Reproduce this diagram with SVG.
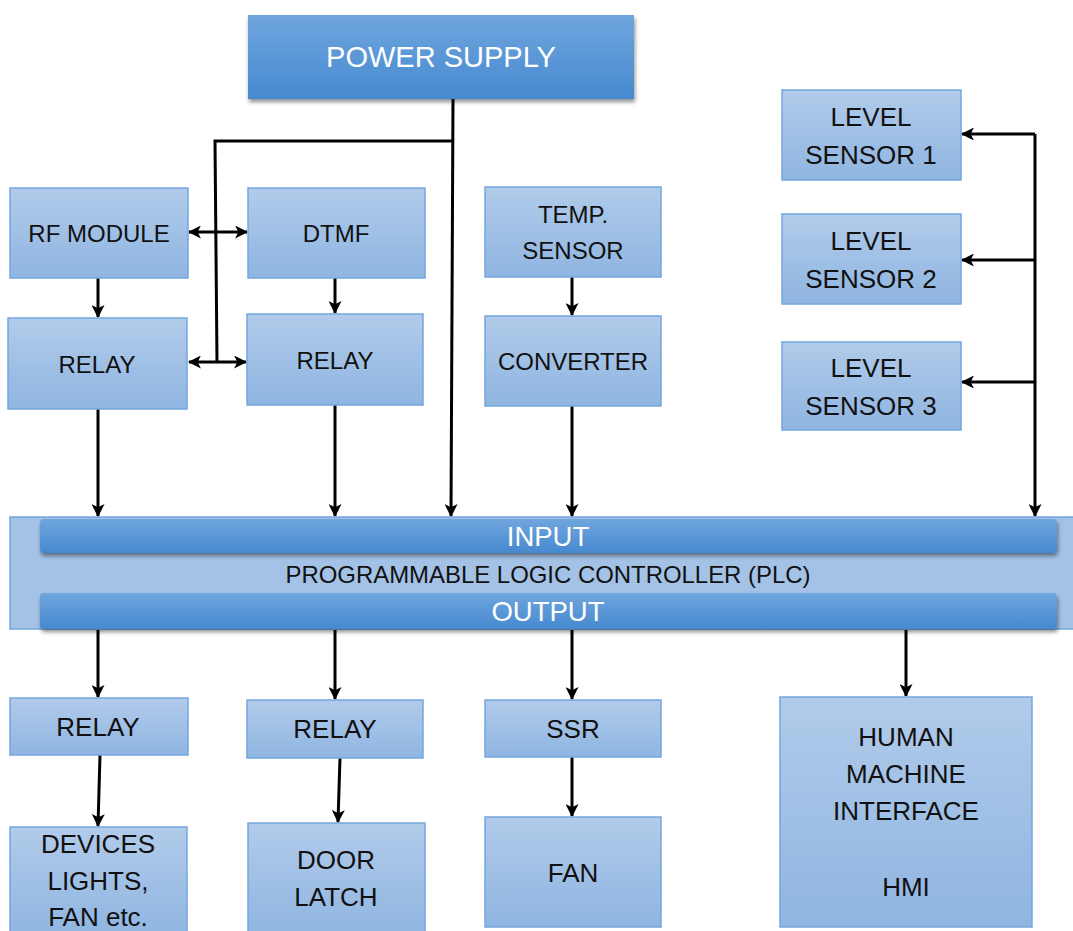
<svg xmlns="http://www.w3.org/2000/svg" width="1073" height="931" viewBox="0 0 1073 931">
  <defs>
    <linearGradient id="boxFill" x1="0" y1="0" x2="0" y2="1">
      <stop offset="0" stop-color="#b1cbea"/>
      <stop offset="1" stop-color="#8fb5e1"/>
    </linearGradient>
    <linearGradient id="darkFill" x1="0" y1="0" x2="0" y2="1">
      <stop offset="0" stop-color="#70a6de"/>
      <stop offset="1" stop-color="#4689cf"/>
    </linearGradient>
    <filter id="shadow" x="-10%" y="-20%" width="120%" height="150%">
      <feGaussianBlur in="SourceAlpha" stdDeviation="2"/>
      <feOffset dx="1" dy="3" result="b"/>
      <feComponentTransfer><feFuncA type="linear" slope="0.45"/></feComponentTransfer>
      <feMerge><feMergeNode/><feMergeNode in="SourceGraphic"/></feMerge>
    </filter>
    <marker id="arrow" viewBox="0 0 12 12" refX="11" refY="6" markerWidth="13" markerHeight="13" markerUnits="userSpaceOnUse" orient="auto-start-reverse">
      <path d="M0,0 L12,6 L0,12 L3,6 Z" fill="#000"/>
    </marker>
  </defs>
  <style>
    .box { fill: url(#boxFill); stroke: #74a7de; stroke-width: 1.5; }
    .dark { fill: url(#darkFill); filter: url(#shadow); }
    .lbl { font-family: "Liberation Sans", Arial, sans-serif; font-size: 24px; fill: #111; text-anchor: middle; dominant-baseline: central; }
    .big { font-size: 26px; }
    .title { font-size: 29px; }
    .bar { font-size: 27.5px; }
    .plc { font-size: 24px; }
    .white { fill: #fff; }
    .wire { fill: none; stroke: #000; stroke-width: 3; }
    .arr { marker-end: url(#arrow); }
    .dbl { marker-start: url(#arrow); marker-end: url(#arrow); }
  </style>

  <rect width="1073" height="931" fill="#fff"/>

  <!-- connectors -->
  <g id="connectors" class="wire">
    <!-- power distribution -->
    <path d="M453,99 L451,516" class="arr"/>
    <path d="M453,141 H215 L217,362"/>
    <path d="M189,232 H247" class="dbl"/>
    <path d="M189,362 H246" class="dbl"/>
    <!-- input side -->
    <path d="M98,278 V317" class="arr"/>
    <path d="M335,278 V313" class="arr"/>
    <path d="M98,409 V516" class="arr"/>
    <path d="M335,405 V516" class="arr"/>
    <path d="M572,277 V315" class="arr"/>
    <path d="M572,406 V516" class="arr"/>
    <!-- level sensor bus -->
    <path d="M1035,134 V516" class="arr"/>
    <path d="M1035,134 H962" class="arr"/>
    <path d="M1035,260 H962" class="arr"/>
    <path d="M1035,382 H962" class="arr"/>
    <!-- output side -->
    <path d="M98,630 V697" class="arr"/>
    <path d="M335,630 V699" class="arr"/>
    <path d="M572,630 V699" class="arr"/>
    <path d="M906,630 V696" class="arr"/>
    <path d="M100,755 L98,826" class="arr"/>
    <path d="M340,758 L338,822" class="arr"/>
    <path d="M572,757 V816" class="arr"/>
  </g>

  <g id="power-supply">
    <rect class="dark" x="248" y="15" width="386" height="84"/>
    <text class="lbl white title" x="441" y="57">POWER SUPPLY</text>
  </g>

  <g id="rf-module">
    <rect class="box" x="10" y="188" width="178" height="90"/>
    <text class="lbl" x="99" y="233">RF MODULE</text>
  </g>
  <g id="dtmf">
    <rect class="box" x="248" y="188" width="177" height="90"/>
    <text class="lbl" x="336" y="233">DTMF</text>
  </g>
  <g id="relay-rf">
    <rect class="box" x="8" y="318" width="179" height="91"/>
    <text class="lbl" x="97" y="364">RELAY</text>
  </g>
  <g id="relay-dtmf">
    <rect class="box" x="247" y="314" width="176" height="91"/>
    <text class="lbl" x="335" y="360">RELAY</text>
  </g>
  <g id="temp-sensor">
    <rect class="box" x="485" y="187" width="176" height="90"/>
    <text class="lbl" x="573" y="214">TEMP.</text>
    <text class="lbl" x="573" y="250">SENSOR</text>
  </g>
  <g id="converter">
    <rect class="box" x="485" y="316" width="176" height="90"/>
    <text class="lbl" x="573" y="361">CONVERTER</text>
  </g>

  <g id="level-sensor-1">
    <rect class="box" x="782" y="90" width="179" height="90"/>
    <text class="lbl big" x="871" y="117">LEVEL</text>
    <text class="lbl big" x="871" y="155">SENSOR 1</text>
  </g>
  <g id="level-sensor-2">
    <rect class="box" x="782" y="214" width="179" height="90"/>
    <text class="lbl big" x="871" y="241">LEVEL</text>
    <text class="lbl big" x="871" y="279">SENSOR 2</text>
  </g>
  <g id="level-sensor-3">
    <rect class="box" x="782" y="342" width="179" height="88"/>
    <text class="lbl big" x="871" y="368">LEVEL</text>
    <text class="lbl big" x="871" y="406">SENSOR 3</text>
  </g>

  <g id="plc">
    <rect x="10" y="517" width="1070" height="112" fill="#a4c2e6" stroke="#74a7de" stroke-width="1.5"/>
    <rect class="dark" x="40" y="519" width="1017" height="34" rx="4"/>
    <text class="lbl white bar" x="548" y="536">INPUT</text>
    <text class="lbl plc" x="548" y="574" textLength="525" lengthAdjust="spacingAndGlyphs">PROGRAMMABLE LOGIC CONTROLLER (PLC)</text>
    <rect class="dark" x="40" y="593" width="1017" height="36" rx="4"/>
    <text class="lbl white bar" x="548" y="611">OUTPUT</text>
  </g>

  <g id="relay-out-1">
    <rect class="box" x="10" y="698" width="178" height="57"/>
    <text class="lbl big" x="98" y="727">RELAY</text>
  </g>
  <g id="relay-out-2">
    <rect class="box" x="247" y="700" width="176" height="58"/>
    <text class="lbl big" x="335" y="729">RELAY</text>
  </g>
  <g id="ssr">
    <rect class="box" x="485" y="700" width="176" height="57"/>
    <text class="lbl big" x="573" y="729">SSR</text>
  </g>
  <g id="hmi">
    <rect class="box" x="780" y="697" width="252" height="230"/>
    <text class="lbl big" x="906" y="737">HUMAN</text>
    <text class="lbl big" x="906" y="774">MACHINE</text>
    <text class="lbl big" x="906" y="811">INTERFACE</text>
    <text class="lbl big" x="906" y="887">HMI</text>
  </g>

  <g id="devices">
    <rect class="box" x="10" y="827" width="177" height="110"/>
    <text class="lbl big" x="98" y="844">DEVICES</text>
    <text class="lbl big" x="98" y="881">LIGHTS,</text>
    <text class="lbl big" x="98" y="917">FAN etc.</text>
  </g>
  <g id="door-latch">
    <rect class="box" x="248" y="823" width="177" height="114"/>
    <text class="lbl big" x="336" y="860">DOOR</text>
    <text class="lbl big" x="336" y="897">LATCH</text>
  </g>
  <g id="fan">
    <rect class="box" x="485" y="817" width="176" height="110"/>
    <text class="lbl big" x="573" y="873">FAN</text>
  </g>
</svg>
